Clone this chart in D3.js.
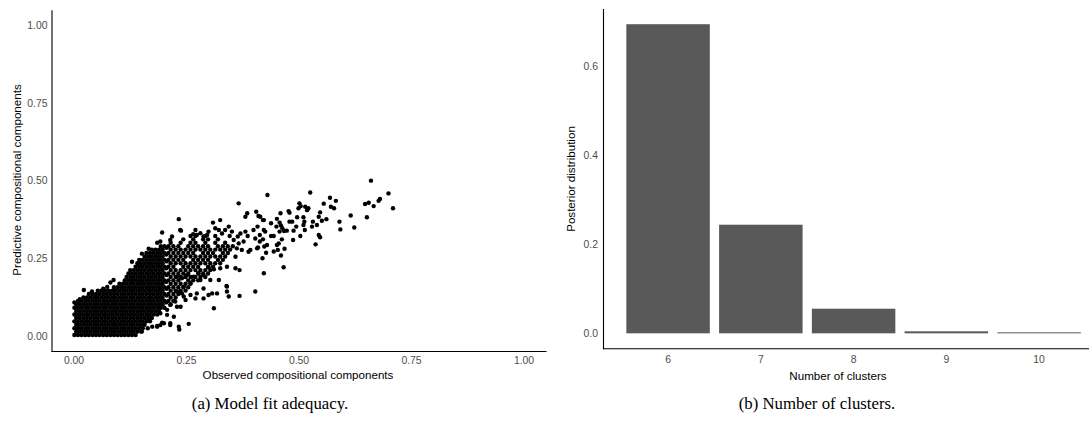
<!DOCTYPE html>
<html>
<head>
<meta charset="utf-8">
<script src="https://cdn.jsdelivr.net/npm/d3@7"></script>
<style>
body { margin: 0; background: #fff; }
svg { display: block; }
.tick text { font-family: "Liberation Sans", Arial, sans-serif; font-size: 10.4px; fill: #4d4d4d; }
.axis-title { font-family: "Liberation Sans", Arial, sans-serif; font-size: 11.6px; fill: #000; }
.caption { font-family: "Liberation Serif", "Times New Roman", serif; font-size: 16.8px; fill: #000; }
</style>
</head>
<body>
<svg id="fig" width="1089" height="427"></svg>
<script>
// ---- data: (a) observed vs predictive compositional components ----
// the solid black part of the cloud, read row by row: [y, [x, x, ...]]
var denseRows = [
   [0.003, [0.002, 0.010, 0.018, 0.026, 0.034, 0.042, 0.050, 0.058, 0.066, 0.074, 0.082, 0.090, 0.098, 0.106, 0.114, 0.122, 0.130, 0.138]],
   [0.014, [0.006, 0.014, 0.022, 0.030, 0.038, 0.046, 0.054, 0.062, 0.070, 0.078, 0.086, 0.094, 0.102, 0.110, 0.118, 0.126, 0.134, 0.142, 0.150]],
   [0.025, [0.002, 0.010, 0.018, 0.026, 0.034, 0.042, 0.050, 0.058, 0.066, 0.074, 0.082, 0.090, 0.098, 0.106, 0.114, 0.122, 0.130, 0.138, 0.146, 0.154]],
   [0.036, [0.006, 0.014, 0.022, 0.030, 0.038, 0.046, 0.054, 0.062, 0.070, 0.078, 0.086, 0.094, 0.102, 0.110, 0.118, 0.126, 0.134, 0.142, 0.150, 0.158]],
   [0.047, [0.002, 0.010, 0.018, 0.026, 0.034, 0.042, 0.050, 0.058, 0.066, 0.074, 0.082, 0.090, 0.098, 0.106, 0.114, 0.122, 0.130, 0.138, 0.146, 0.154, 0.162, 0.170]],
   [0.058, [0.006, 0.014, 0.022, 0.030, 0.038, 0.046, 0.054, 0.062, 0.070, 0.078, 0.086, 0.094, 0.102, 0.110, 0.118, 0.126, 0.134, 0.142, 0.150, 0.158, 0.166, 0.174]],
   [0.069, [0.002, 0.010, 0.018, 0.026, 0.034, 0.042, 0.050, 0.058, 0.066, 0.074, 0.082, 0.090, 0.098, 0.106, 0.114, 0.122, 0.130, 0.138, 0.146, 0.154, 0.162, 0.170, 0.178, 0.186]],
   [0.080, [0.006, 0.014, 0.022, 0.030, 0.038, 0.046, 0.054, 0.062, 0.070, 0.078, 0.086, 0.094, 0.102, 0.110, 0.118, 0.126, 0.134, 0.142, 0.150, 0.158, 0.166, 0.174, 0.182, 0.190]],
   [0.091, [0.002, 0.010, 0.018, 0.026, 0.034, 0.042, 0.050, 0.058, 0.066, 0.074, 0.082, 0.090, 0.098, 0.106, 0.114, 0.122, 0.130, 0.138, 0.146, 0.154, 0.162, 0.170, 0.178, 0.186, 0.194, 0.202]],
   [0.102, [0.006, 0.014, 0.022, 0.030, 0.038, 0.046, 0.054, 0.062, 0.070, 0.078, 0.086, 0.094, 0.102, 0.110, 0.118, 0.126, 0.134, 0.142, 0.150, 0.158, 0.166, 0.174, 0.182, 0.190, 0.198, 0.216]],
   [0.113, [0.010, 0.018, 0.026, 0.034, 0.042, 0.050, 0.058, 0.066, 0.074, 0.082, 0.090, 0.098, 0.106, 0.114, 0.122, 0.130, 0.138, 0.146, 0.154, 0.162, 0.170, 0.178, 0.186, 0.194, 0.202, 0.211, 0.222]],
   [0.124, [0.022, 0.030, 0.038, 0.046, 0.054, 0.062, 0.070, 0.078, 0.086, 0.094, 0.102, 0.110, 0.118, 0.126, 0.134, 0.142, 0.150, 0.158, 0.166, 0.174, 0.182, 0.190, 0.198, 0.216, 0.227]],
   [0.135, [0.034, 0.042, 0.050, 0.058, 0.066, 0.074, 0.082, 0.090, 0.098, 0.106, 0.114, 0.122, 0.130, 0.138, 0.146, 0.154, 0.162, 0.170, 0.178, 0.186, 0.194, 0.202, 0.211, 0.222, 0.233]],
   [0.146, [0.054, 0.062, 0.070, 0.078, 0.086, 0.094, 0.102, 0.110, 0.118, 0.126, 0.134, 0.142, 0.150, 0.158, 0.166, 0.174, 0.182, 0.190, 0.198, 0.216, 0.227, 0.238, 0.249]],
   [0.157, [0.090, 0.098, 0.106, 0.114, 0.122, 0.130, 0.138, 0.146, 0.154, 0.162, 0.170, 0.178, 0.186, 0.194, 0.202, 0.211, 0.222, 0.233, 0.244, 0.255]],
   [0.168, [0.102, 0.110, 0.118, 0.126, 0.134, 0.142, 0.150, 0.158, 0.166, 0.174, 0.182, 0.190, 0.198, 0.216, 0.227, 0.238, 0.249, 0.260]],
   [0.179, [0.114, 0.122, 0.130, 0.138, 0.146, 0.154, 0.162, 0.170, 0.178, 0.186, 0.194, 0.202, 0.211, 0.222, 0.233, 0.255, 0.266, 0.277]],
   [0.190, [0.118, 0.126, 0.134, 0.142, 0.150, 0.158, 0.166, 0.174, 0.182, 0.190, 0.198, 0.216, 0.227, 0.238, 0.249, 0.260, 0.271, 0.282, 0.293]],
   [0.201, [0.122, 0.130, 0.138, 0.146, 0.154, 0.162, 0.170, 0.178, 0.186, 0.194, 0.202, 0.211, 0.222, 0.233, 0.244, 0.255, 0.277, 0.288, 0.299]],
   [0.212, [0.126, 0.134, 0.142, 0.150, 0.158, 0.166, 0.174, 0.182, 0.190, 0.198, 0.216, 0.227, 0.238, 0.249, 0.260, 0.271, 0.282, 0.293, 0.304]],
   [0.223, [0.138, 0.146, 0.154, 0.162, 0.170, 0.178, 0.186, 0.194, 0.202, 0.211, 0.222, 0.244, 0.255, 0.266, 0.277, 0.299, 0.310]],
   [0.234, [0.142, 0.150, 0.158, 0.166, 0.174, 0.182, 0.190, 0.198, 0.216, 0.227, 0.238, 0.249, 0.260, 0.271, 0.282, 0.293, 0.304, 0.315, 0.326]],
   [0.245, [0.146, 0.154, 0.162, 0.170, 0.178, 0.186, 0.194, 0.202, 0.211, 0.222, 0.233, 0.244, 0.266, 0.277, 0.288, 0.299, 0.321, 0.332]],
   [0.256, [0.158, 0.166, 0.174, 0.182, 0.190, 0.198, 0.216, 0.227, 0.238, 0.249, 0.260, 0.271, 0.282, 0.293, 0.304, 0.315, 0.326, 0.337]],
   [0.267, [0.162, 0.170, 0.178, 0.186, 0.194, 0.202, 0.211, 0.222, 0.233, 0.244, 0.255, 0.266, 0.288, 0.299, 0.310, 0.332, 0.343]],
   [0.278, [0.174, 0.182, 0.190, 0.198, 0.216, 0.227, 0.238, 0.249, 0.260, 0.271, 0.282, 0.293, 0.304, 0.315, 0.326, 0.337, 0.348]],
   [0.289, [0.194, 0.202, 0.211, 0.222, 0.233, 0.255, 0.266, 0.277, 0.288, 0.299, 0.321, 0.332, 0.343, 0.354]],
   [0.300, [0.216, 0.238, 0.260, 0.271, 0.293, 0.315, 0.337]],
   [0.311, [0.244, 0.266, 0.288, 0.299, 0.321]],
   [0.322, [0.271, 0.293, 0.315]]
];

// the rest of the cloud, point by point: [observed, predictive]
var scatterPoints = [
   [0.002, 0.108], [0.023, 0.148], [0.089, 0.180], [0.082, 0.172], [0.130, 0.239], [0.152, 0.265], [0.167, 0.281],
   [0.186, 0.300], [0.193, 0.304], [0.215, 0.309], [0.197, 0.333], [0.219, 0.320], [0.237, 0.341],
   [0.014, 0.118], [0.041, 0.143], [0.066, 0.152], [0.075, 0.158],
   // seam of the dense band
   [0.206, 0.108], [0.207, 0.130], [0.207, 0.152], [0.206, 0.174], [0.207, 0.196], [0.206, 0.218], [0.207, 0.240],
   [0.206, 0.262], [0.207, 0.284],
   // lower right of the core
   [0.152, 0.014], [0.165, 0.025], [0.175, 0.030], [0.186, 0.032], [0.193, 0.035], [0.197, 0.043], [0.215, 0.041],
   [0.235, 0.021], [0.256, 0.039], [0.167, 0.051], [0.223, 0.062], [0.208, 0.084], [0.230, 0.094], [0.249, 0.116],
   [0.241, 0.137], [0.234, 0.030], [0.215, 0.035], [0.201, 0.041], [0.186, 0.030], [0.208, 0.068], [0.193, 0.073],
   [0.238, 0.094], [0.215, 0.100], [0.226, 0.111],
   // band, x 0.17 - 0.39
   [0.367, 0.427], [0.234, 0.376], [0.310, 0.365], [0.326, 0.373], [0.386, 0.395], [0.382, 0.384],
   [0.239, 0.339], [0.260, 0.322], [0.266, 0.328], [0.271, 0.341], [0.274, 0.325], [0.282, 0.331], [0.289, 0.320],
   [0.297, 0.325], [0.300, 0.336], [0.315, 0.347], [0.323, 0.341], [0.330, 0.330], [0.337, 0.341], [0.345, 0.352],
   [0.352, 0.336], [0.347, 0.322], [0.356, 0.309], [0.365, 0.320], [0.371, 0.330], [0.382, 0.336],
   [0.387, 0.322], [0.378, 0.304], [0.367, 0.298], [0.363, 0.282], [0.374, 0.277], [0.389, 0.271], [0.360, 0.255],
   [0.369, 0.212], [0.360, 0.218], [0.341, 0.223], [0.326, 0.218], [0.312, 0.215], [0.300, 0.221], [0.289, 0.196],
   [0.278, 0.202], [0.267, 0.191], [0.252, 0.196], [0.241, 0.186], [0.230, 0.191],
   [0.323, 0.180], [0.289, 0.153], [0.308, 0.137], [0.341, 0.159], [0.345, 0.127], [0.369, 0.129], [0.312, 0.089],
   [0.289, 0.121], [0.271, 0.121], [0.274, 0.137], [0.260, 0.132], [0.245, 0.127], [0.230, 0.143],
   [0.245, 0.159], [0.260, 0.170], [0.282, 0.180], [0.304, 0.180],
   [0.341, 0.143], [0.319, 0.137], [0.300, 0.132], [0.340, 0.161],
   // upper part, x 0.39 - 0.71
   [0.661, 0.500], [0.700, 0.459], [0.710, 0.411], [0.681, 0.441], [0.678, 0.435], [0.667, 0.418], [0.648, 0.425],
   [0.656, 0.429], [0.652, 0.382], [0.624, 0.349], [0.616, 0.388], [0.591, 0.368], [0.593, 0.343], [0.583, 0.435],
   [0.570, 0.445], [0.572, 0.416], [0.579, 0.411], [0.556, 0.426], [0.548, 0.398], [0.562, 0.376], [0.552, 0.371],
   [0.545, 0.384], [0.526, 0.462], [0.519, 0.405], [0.522, 0.411], [0.515, 0.416], [0.502, 0.427], [0.505, 0.418],
   [0.500, 0.411], [0.532, 0.368], [0.530, 0.352], [0.541, 0.357], [0.545, 0.325], [0.548, 0.318], [0.538, 0.295],
   [0.511, 0.382], [0.513, 0.368], [0.511, 0.357], [0.514, 0.341], [0.504, 0.322], [0.497, 0.382], [0.495, 0.352],
   [0.480, 0.397], [0.478, 0.402], [0.486, 0.368], [0.480, 0.368], [0.489, 0.339], [0.488, 0.309], [0.474, 0.339],
   [0.468, 0.338], [0.464, 0.347], [0.461, 0.356], [0.458, 0.365], [0.460, 0.395], [0.452, 0.377], [0.458, 0.336],
   [0.463, 0.311], [0.456, 0.298], [0.452, 0.293], [0.454, 0.277], [0.461, 0.259], [0.467, 0.221], [0.469, 0.281],
   [0.445, 0.272], [0.428, 0.268], [0.424, 0.288], [0.430, 0.293], [0.420, 0.250], [0.423, 0.202], [0.404, 0.143],
   [0.408, 0.282], [0.410, 0.285], [0.414, 0.304], [0.421, 0.311], [0.414, 0.325], [0.426, 0.336], [0.423, 0.341],
   [0.400, 0.341], [0.404, 0.314], [0.393, 0.277], [0.409, 0.352], [0.421, 0.373], [0.415, 0.384], [0.406, 0.400],
   [0.439, 0.322], [0.445, 0.322], [0.451, 0.352], [0.439, 0.363], [0.431, 0.454], [0.411, 0.386], [0.423, 0.373]
];

// ---- data: (b) posterior of the number of clusters ----
var clusterLabels = ["6", "7", "8", "9", "10"];
var clusterProbs = [0.693, 0.2435, 0.0552, 0.0045, 0.0022];

// ticks
var fitTicks = [0, 0.25, 0.5, 0.75, 1];
var probTicks = [0, 0.2, 0.4, 0.6];

var svg = d3.select("#fig");

// flatten the core rows into points
var fitData = [];
denseRows.forEach(function (row) {
   row[1].forEach(function (x) { fitData.push([x, row[0]]); });
});
scatterPoints.forEach(function (p) { fitData.push(p); });

// ---------- panel (a) ----------
var xScale = d3.scaleLinear().domain([-0.05, 1.05]).range([51, 546]);
var yScale = d3.scaleLinear().domain([-0.05, 1.05]).range([351.5, 9.8]);

svg.append("g")
   .selectAll("circle")
   .data(fitData)
   .enter().append("circle")
   .attr("cx", function (d) { return xScale(d[0]); })
   .attr("cy", function (d) { return yScale(d[1]); })
   .attr("r", 2.2)
   .attr("fill", "#000");

svg.append("g")
   .attr("transform", "translate(0," + 351 + ")")
   .call(d3.axisBottom(xScale).tickValues(fitTicks).tickFormat(d3.format(".2f"))
      .tickSize(0).tickSizeOuter(0).tickPadding(6));

svg.append("g")
   .attr("transform", "translate(" + 51.5 + ",0)")
   .call(d3.axisLeft(yScale).tickValues(fitTicks).tickFormat(d3.format(".2f"))
      .tickSize(0).tickSizeOuter(0).tickPadding(4));

svg.append("text")
   .attr("class", "axis-title")
   .attr("x", 298).attr("y", 379)
   .attr("text-anchor", "middle")
   .text("Observed compositional components");

svg.append("text")
   .attr("class", "axis-title")
   .attr("transform", "translate(17,180) rotate(-90)")
   .attr("dy", "0.35em")
   .attr("text-anchor", "middle")
   .text("Predictive compositional components");

// ---------- panel (b) ----------
var xBand = d3.scaleBand().domain(clusterLabels).range([621.7, 1085.5])
   .paddingInner(0.1).paddingOuter(0.05);
var yProb = d3.scaleLinear().domain([-0.0347, 0.728]).range([348.8, 8.6]);

svg.append("g")
   .selectAll("rect")
   .data(clusterLabels)
   .enter().append("rect")
   .attr("x", function (d) { return xBand(d); })
   .attr("width", xBand.bandwidth())
   .attr("y", function (d, i) { return yProb(clusterProbs[i]); })
   .attr("height", function (d, i) { return yProb(0) - yProb(clusterProbs[i]); })
   .attr("fill", "#595959");

var bx = svg.append("g")
   .attr("transform", "translate(0," + 348.8 + ")")
   .call(d3.axisBottom(xBand).tickSize(0).tickPadding(7));
bx.select(".domain").remove();
svg.append("line")
   .attr("x1", 603).attr("x2", 1089)
   .attr("y1", 348.8).attr("y2", 348.8);

svg.append("g")
   .attr("transform", "translate(" + 603 + ",0)")
   .call(d3.axisLeft(yProb).tickValues(probTicks).tickFormat(d3.format(".1f"))
      .tickSize(0).tickSizeOuter(0).tickPadding(5));

svg.append("text")
   .attr("class", "axis-title")
   .attr("x", 838).attr("y", 380)
   .attr("text-anchor", "middle")
   .text("Number of clusters");

svg.append("text")
   .attr("class", "axis-title")
   .attr("transform", "translate(571,179) rotate(-90)")
   .attr("dy", "0.35em")
   .attr("text-anchor", "middle")
   .text("Posterior distribution");

// axis lines
svg.selectAll(".domain").attr("stroke", "#000").attr("stroke-width", 1.1);
svg.selectAll("line").filter(function () { return !this.closest(".tick"); })
   .attr("stroke", "#000").attr("stroke-width", 1.1);
svg.selectAll(".tick text").attr("fill", "#4d4d4d");

// ---------- captions ----------
svg.append("text")
   .attr("class", "caption")
   .attr("x", 270).attr("y", 409)
   .attr("text-anchor", "middle")
   .text("(a) Model fit adequacy.");

svg.append("text")
   .attr("class", "caption")
   .attr("x", 817).attr("y", 409)
   .attr("text-anchor", "middle")
   .text("(b) Number of clusters.");
</script>
</body>
</html>
